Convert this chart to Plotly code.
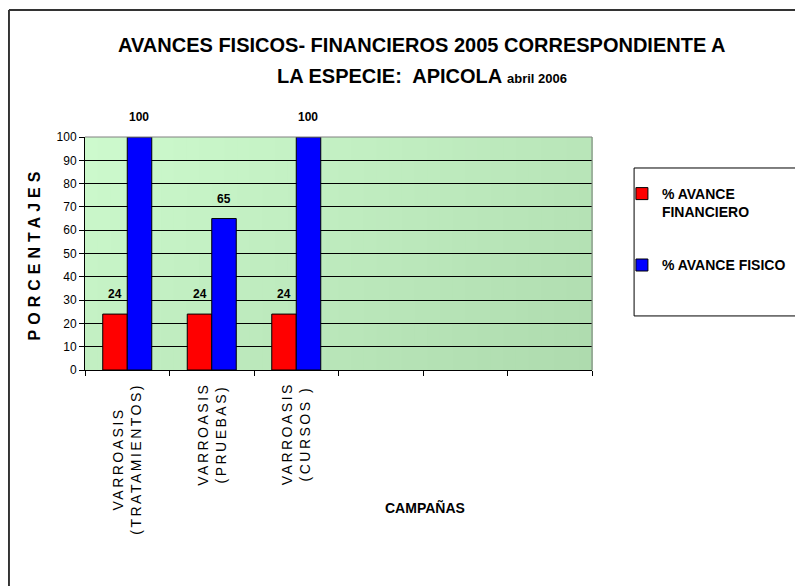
import plotly.graph_objects as go

# categorias (las tres ultimas vacias, como en la grafica original)
campanas = ["VARROASIS<br>(TRATAMIENTOS)", "VARROASIS<br>(PRUEBAS)", "VARROASIS<br>(CURSOS )", " ", "  ", "   "]
avance_financiero = [24, 24, 24, None, None, None]
avance_fisico = [100, 65, 100, None, None, None]
y_ticks = [0, 10, 20, 30, 40, 50, 60, 70, 80, 90, 100]

FONT = "Liberation Sans, Arial, sans-serif"

fig = go.Figure()
fig.add_bar(x=campanas, y=avance_financiero, name="% AVANCE<br>FINANCIERO",
            marker=dict(color="#ff0000", line=dict(color="black", width=1)),
            legendgroup="a")
fig.add_bar(x=campanas, y=avance_fisico, name="% AVANCE FISICO",
            marker=dict(color="#0000ff", line=dict(color="black", width=1)),
            legendgroup="b")

annotations = [
    dict(text="AVANCES FISICOS- FINANCIEROS 2005 CORRESPONDIENTE A", xref="paper", yref="paper",
         x=0.665, y=1.395, xanchor="center", yanchor="middle", showarrow=False,
         font=dict(size=20, weight="bold")),
    dict(text="LA ESPECIE:  APICOLA <span style='font-size:13px'>abril 2006</span>",
         xref="paper", yref="paper", x=0.665, y=1.262, xanchor="center", yanchor="middle",
         showarrow=False, font=dict(size=20, weight="bold")),
    dict(text="CAMPAÑAS", xref="paper", yref="paper", x=0.67, y=-0.588, xanchor="center",
         yanchor="middle", showarrow=False, font=dict(size=14, weight="bold")),
]
# etiquetas de datos
for serie, dx in ((avance_financiero, -12), (avance_fisico, 12)):
    for cat, v in zip(campanas, serie):
        if v is None:
            continue
        annotations.append(dict(text="<b>%d</b>" % v, x=cat, y=v, xref="x", yref="y",
                                xshift=dx, yshift=11, yanchor="bottom", showarrow=False,
                                font=dict(size=12)))
# etiquetas de categoria rotadas
for cat in campanas:
    if not cat.strip():
        continue
    txt = "<br>".join("<span style='letter-spacing:2.5px'>%s</span>" % s for s in cat.split("<br>"))
    annotations.append(dict(text=txt, x=cat, y=-0.045, xref="x", yref="paper", textangle=-90,
                            xanchor="center", yanchor="top", align="center", showarrow=False,
                            font=dict(size=14)))

# fondo degradado del area de trazado
shapes = []
nx, ny = 40, 10
c0 = (205, 250, 205)
c1 = (174, 219, 174)
for i in range(nx):
    for j in range(ny):
        t = (i / (nx - 1)) * 0.65 + (j / (ny - 1)) * 0.35
        col = tuple(int(round(a + (b - a) * t)) for a, b in zip(c0, c1))
        shapes.append(dict(type="rect", xref="x domain", yref="y domain",
                           x0=i / nx, x1=(i + 1) / nx + 0.002,
                           y0=1 - (j + 1) / ny - 0.002, y1=1 - j / ny,
                           fillcolor="rgb(%d,%d,%d)" % col, line=dict(width=0),
                           layer="below"))
# borde gris arriba y derecha
shapes.append(dict(type="line", xref="x domain", yref="y domain", x0=0, x1=1, y0=1, y1=1,
                   line=dict(color="#808080", width=1)))
shapes.append(dict(type="line", xref="x domain", yref="y domain", x0=1, x1=1, y0=0, y1=1,
                   line=dict(color="#808080", width=1)))
# caja de la leyenda
shapes.append(dict(type="rect", xref="paper", yref="paper", x0=1.083, x1=1.412, y0=0.232, y1=0.867,
                   line=dict(color="black", width=1), fillcolor="white", layer="below"))
# marco exterior
shapes.append(dict(type="line", xref="paper", yref="paper", x0=-0.15, x1=1.6, y0=1.545, y1=1.545,
                   line=dict(color="#333333", width=2)))
shapes.append(dict(type="line", xref="paper", yref="paper", x0=-0.15, x1=-0.15, y0=-1.0, y1=1.545,
                   line=dict(color="#333333", width=2)))

fig.update_layout(
    width=795, height=578,
    margin=dict(l=77, r=211, t=129, b=216),
    paper_bgcolor="white", plot_bgcolor="rgba(0,0,0,0)",
    barmode="group", bargap=0.42, bargroupgap=0,
    font=dict(family=FONT, size=12, color="black"),
    shapes=shapes,
    annotations=annotations,
    showlegend=True,
    legend=dict(x=1.059, y=0.824, xanchor="left", yanchor="top", valign="top",
                bgcolor="rgba(0,0,0,0)", borderwidth=0,
                tracegroupgap=32, traceorder="grouped",
                font=dict(family=FONT, size=14, weight="bold")),
    xaxis=dict(showgrid=False, showline=True, linecolor="black", linewidth=1,
               ticks="outside", tickson="boundaries", ticklen=5, tickcolor="black",
               showticklabels=False, fixedrange=True),
    yaxis=dict(range=[0, 100], tickvals=y_ticks, showgrid=True, gridcolor="black", gridwidth=1,
               showline=True, linecolor="black", linewidth=1, ticks="outside", ticklen=5,
               tickcolor="black", zeroline=False, tickfont=dict(size=12), fixedrange=True,
               title=dict(text="<span style='letter-spacing:5px'>PORCENTAJES</span>",
                          font=dict(size=16, weight="bold"), standoff=11)),
)

fig.write_html("out.html")
